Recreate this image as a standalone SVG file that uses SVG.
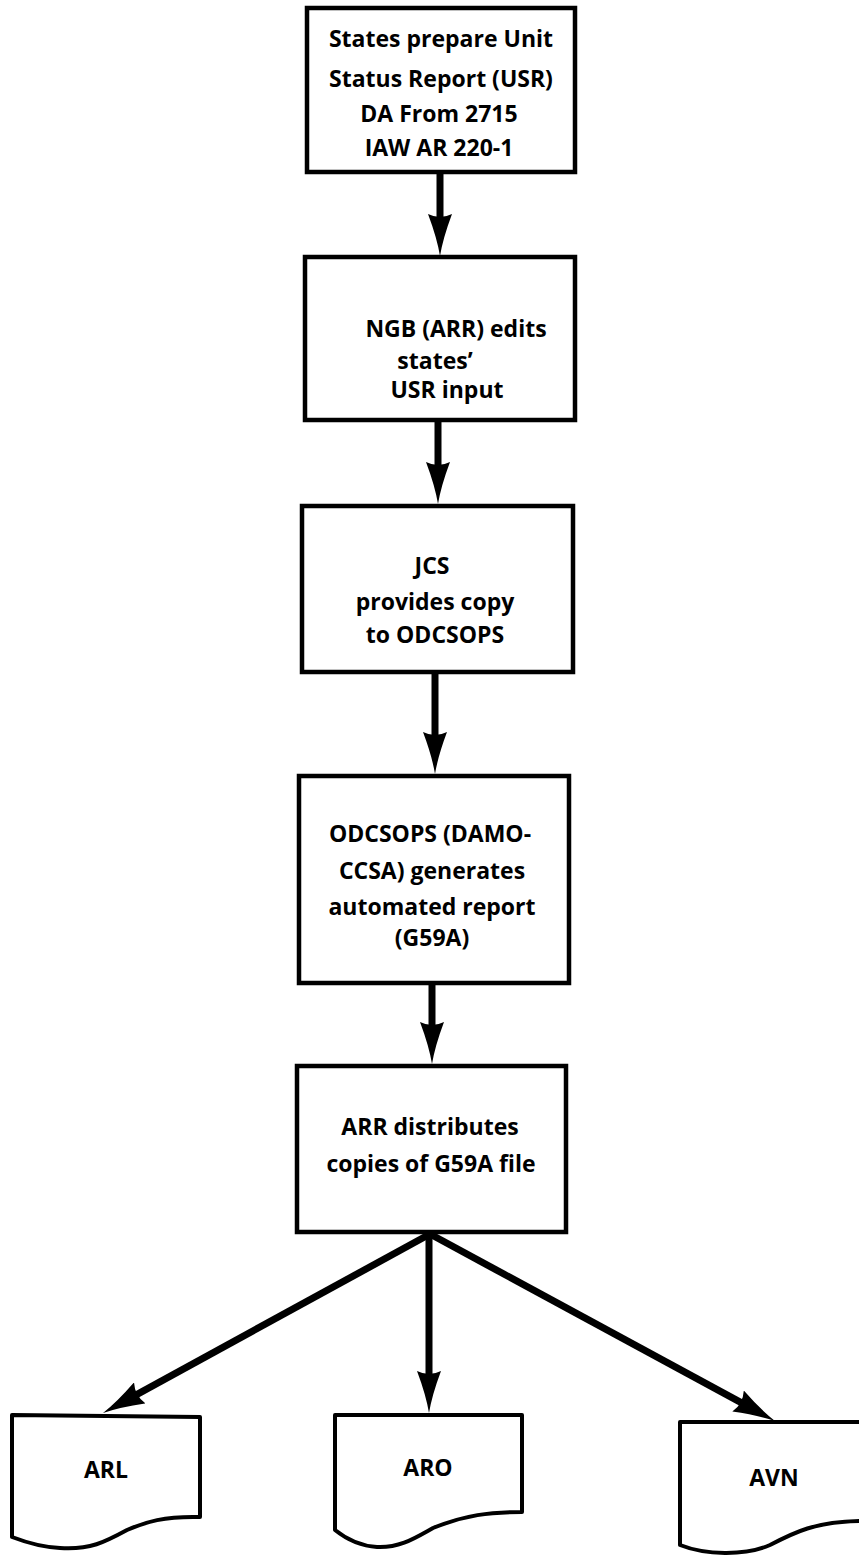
<svg xmlns="http://www.w3.org/2000/svg" width="859" height="1556" viewBox="0 0 859 1556">
<style>
  .box { fill: #fff; stroke: #000; stroke-width: 4.5; }
  .doc { fill: #fff; stroke: #000; stroke-width: 4; stroke-linejoin: round; }
  .t { font-family: "Open Sans", "Liberation Sans", sans-serif; font-weight: 700; font-size: 23px; fill: #000; text-anchor: middle; }
  .dt { font-family: "Open Sans", "Liberation Sans", sans-serif; font-weight: 700; font-size: 23px; fill: #000; text-anchor: middle; }
  .arr { stroke: #000; stroke-width: 7; fill: none; marker-end: url(#head); }
</style>
<defs>
  <marker id="head" viewBox="0 0 42 24" refX="12" refY="12" markerWidth="42" markerHeight="24" markerUnits="userSpaceOnUse" orient="auto">
    <path d="M0,0 Q24,9 42,12 Q24,15 0,24 Q6,12 0,0 Z" fill="#000"/>
  </marker>
</defs>
<rect width="859" height="1556" fill="#fff"/>

<g id="connectors">
  <line class="arr" x1="440" y1="172" x2="440" y2="226"/>
  <line class="arr" x1="438" y1="420" x2="438" y2="474"/>
  <line class="arr" x1="435" y1="672" x2="435" y2="744"/>
  <line class="arr" x1="432" y1="983" x2="432" y2="1034"/>
  <line class="arr" x1="430" y1="1234" x2="129.3" y2="1398.6"/>
  <line class="arr" x1="429" y1="1234" x2="429" y2="1383"/>
  <line class="arr" x1="430" y1="1234" x2="748.6" y2="1406.7"/>
</g>

<g id="n1">
  <rect class="box" x="307" y="8" width="268" height="164"/>
  <text class="t" x="441" y="47">States prepare Unit</text>
  <text class="t" x="441" y="87">Status Report (USR)</text>
  <text class="t" x="439" y="122">DA From 2715</text>
  <text class="t" x="439" y="156">IAW AR 220-1</text>
</g>

<g id="n2">
  <rect class="box" x="305" y="257" width="270" height="163"/>
  <text class="t" x="456" y="337">NGB (ARR) edits</text>
  <text class="t" x="435" y="369">states’</text>
  <text class="t" x="447" y="398">USR input</text>
</g>

<g id="n3">
  <rect class="box" x="302" y="506" width="271" height="166"/>
  <text class="t" x="432" y="574">JCS</text>
  <text class="t" x="435" y="610">provides copy</text>
  <text class="t" x="435" y="643">to ODCSOPS</text>
</g>

<g id="n4">
  <rect class="box" x="299" y="776" width="270" height="207"/>
  <text class="t" x="430" y="842">ODCSOPS (DAMO-</text>
  <text class="t" x="432" y="879">CCSA) generates</text>
  <text class="t" x="432" y="915">automated report</text>
  <text class="t" x="432" y="946">(G59A)</text>
</g>

<g id="n5">
  <rect class="box" x="297" y="1066" width="269" height="166"/>
  <text class="t" x="430" y="1135">ARR distributes</text>
  <text class="t" x="431" y="1172">copies of G59A file</text>
</g>

<g id="arl">
  <path class="doc" d="M12,1415 L200,1417 L200,1517 C165,1516 145,1522 127,1530 C105,1542 90,1550 60,1548 C40,1547 25,1542 12,1537 Z"/>
  <text class="dt" x="106" y="1478">ARL</text>
</g>

<g id="aro">
  <path class="doc" d="M335,1415 L522,1415 L522,1512 C490,1512 465,1515 433,1528 C415,1538 400,1548 377,1547 C360,1546 345,1538 335,1530 Z"/>
  <text class="dt" x="428" y="1476">ARO</text>
</g>

<g id="avn">
  <path class="doc" d="M680,1422 L870,1422 L870,1521 L859,1521 C815,1522 795,1532 770,1545 C745,1556 705,1555 680,1545 Z"/>
  <text class="dt" x="774" y="1486">AVN</text>
</g>
</svg>
